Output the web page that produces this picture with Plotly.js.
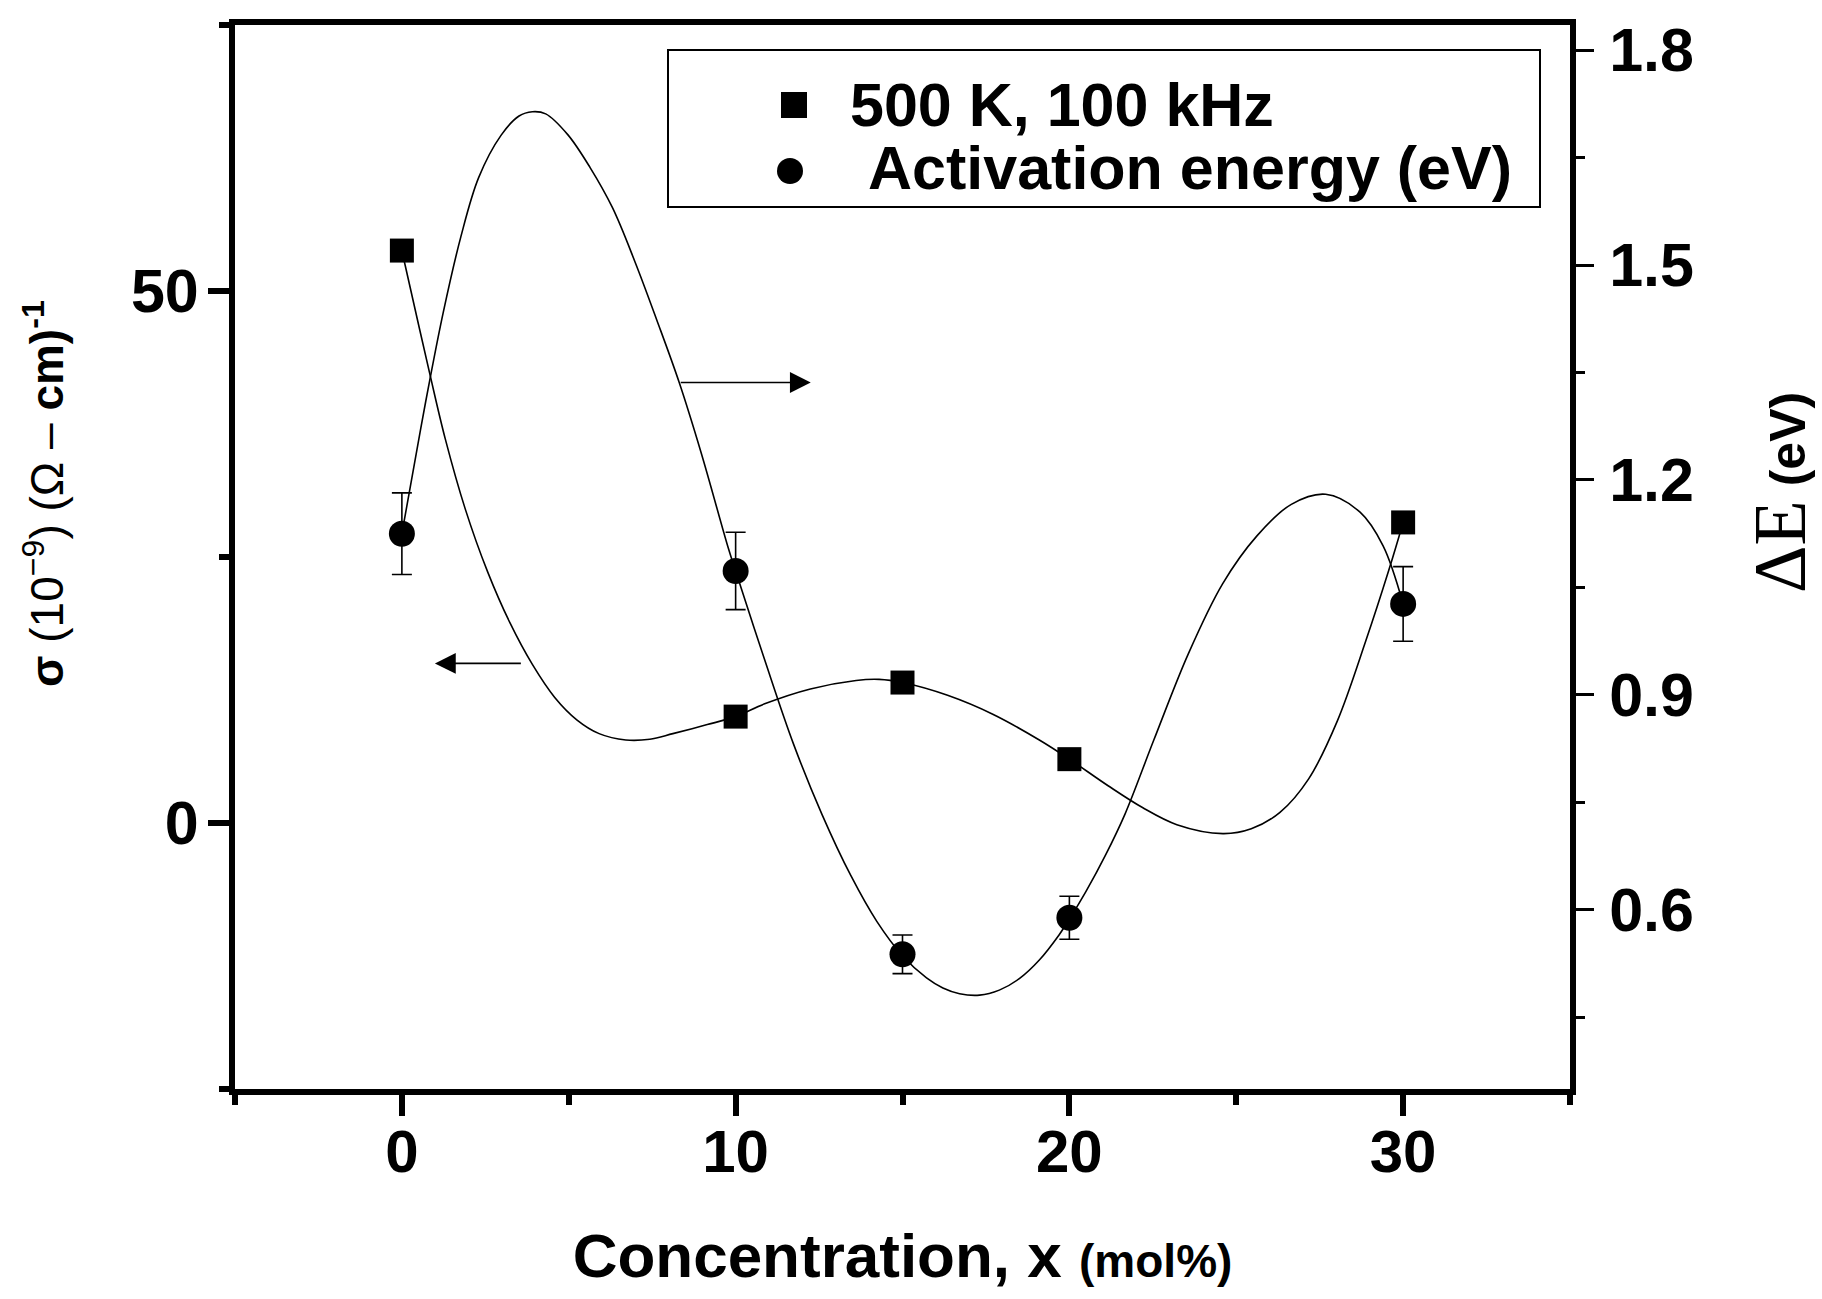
<!DOCTYPE html>
<html>
<head>
<meta charset="utf-8">
<script src="https://cdn.plot.ly/plotly-3.0.1.min.js"></script>
<style>html,body{margin:0;padding:0;background:#fff;}#chart{width:1822px;height:1299px;}</style>
</head>
<body>
<div id="chart"></div>
<script>
// ---- data ----
var conc = [0, 10, 15, 20, 30];
var sigma = [53.8, 10.0, 13.2, 6.0, 28.25];          // 10^-9 (ohm cm)^-1, 500 K, 100 kHz
var actE = [1.125, 1.073, 0.538, 0.589, 1.027];       // eV
var actErr = [0.057, 0.054, 0.027, 0.030, 0.052];

// smooth guide curves
var sigmaCurveX = [0, 0.10, 0.83, 1.30, 1.90, 2.57, 3.24, 3.91, 4.58, 5.24, 5.91, 6.71, 7.43, 8.12, 9.15, 10,
  10.87, 12.24, 13.61, 14.30, 15, 16.35, 17.72, 19.10, 20, 21.16, 22.19, 23.22, 24.60, 25.45, 26.31, 27.17, 28.03, 28.88, 29.57, 30];
var sigmaCurveY = [53.8, 52.4, 42.3, 36.1, 29.5, 23.6, 18.8, 14.9, 11.8, 9.7, 8.4, 7.8, 7.87, 8.4, 9.25, 10.0,
  11.2, 12.6, 13.4, 13.5, 13.2, 12.0, 10.2, 7.8, 6.0, 3.5, 1.45, -0.16, -1.0, -0.55, 1.0, 4.15, 9.6, 17.1, 23.75, 28.25];
var eCurveX = [0, 0.57, 0.83, 1.24, 1.77, 2.30, 2.97, 3.51, 3.91, 4.31, 4.97, 5.64, 6.31, 6.98, 7.64, 8.31, 8.98, 9.78, 10,
  10.87, 11.73, 12.59, 13.45, 14.23, 15, 15.72, 16.21, 16.71, 17.31, 17.90, 18.50, 19.10, 19.69, 20,
  20.49, 21.09, 21.67, 22.53, 23.56, 24.59, 25.62, 26.65, 27.68, 28.71, 29.40, 30];
var eCurveY = [1.125, 1.273, 1.338, 1.434, 1.540, 1.622, 1.681, 1.708, 1.714, 1.711, 1.682, 1.636, 1.580, 1.505, 1.423, 1.336, 1.236, 1.105, 1.073,
  0.949, 0.832, 0.733, 0.648, 0.584, 0.536, 0.505, 0.491, 0.483, 0.481, 0.488, 0.504, 0.530, 0.565, 0.587,
  0.625, 0.677, 0.734, 0.837, 0.957, 1.055, 1.122, 1.166, 1.180, 1.155, 1.108, 1.027];

var xTickVals = [0, 10, 20, 30];
var legendNames = ['500 K, 100 kHz', 'Activation energy (eV)'];

var SANS = 'Liberation Sans, Arial, sans-serif';

var traces = [
  {x: sigmaCurveX, y: sigmaCurveY, mode: 'lines', line: {color: '#000', width: 1.6, shape: 'spline', smoothing: 1}, yaxis: 'y', showlegend: false, hoverinfo: 'skip'},
  {x: eCurveX, y: eCurveY, mode: 'lines', line: {color: '#000', width: 1.6, shape: 'spline', smoothing: 1}, yaxis: 'y2', showlegend: false, hoverinfo: 'skip'},
  {x: conc, y: sigma, name: legendNames[0], mode: 'markers', marker: {symbol: 'square', size: 24, color: '#000'}, yaxis: 'y', showlegend: false},
  {x: conc, y: actE, name: legendNames[1], mode: 'markers', marker: {symbol: 'circle', size: 26, color: '#000'},
   error_y: {type: 'data', array: actErr, visible: true, color: '#000', thickness: 1.6, width: 10}, yaxis: 'y2', showlegend: false}
];

function u(px) { return (px - 235) / 1335; }
function v(py) { return 1 - (py - 25) / 1064; }

var layout = {
  width: 1822, height: 1299,
  margin: {l: 235, r: 252, t: 25, b: 210, pad: 0},
  paper_bgcolor: '#fff', plot_bgcolor: '#fff',
  showlegend: false,
  font: {family: SANS, color: '#000'},
  xaxis: {
    range: [-5, 35], tickvals: xTickVals, ticktext: xTickVals.map(String),
    showgrid: false, zeroline: false,
    showline: true, linewidth: 6, linecolor: '#000', mirror: true,
    ticks: 'outside', ticklen: 21, tickwidth: 6, tickcolor: '#000',
    minor: {dtick: 5, tick0: 0, ticks: 'outside', ticklen: 10, tickwidth: 6, tickcolor: '#000', showgrid: false},
    tickfont: {family: SANS, size: 60, weight: 'bold', color: '#000'},
    ticklabelstandoff: -16,
    title: {text: 'Concentration, x <span style="font-size:46px">(mol%)</span>', font: {family: SANS, size: 62, weight: 'bold', color: '#000'}, standoff: 52}
  },
  yaxis: {
    range: [-25, 75], tick0: 0, dtick: 50,
    showgrid: false, zeroline: false,
    showline: true, linewidth: 6, linecolor: '#000',
    ticks: 'outside', ticklen: 21, tickwidth: 6, tickcolor: '#000',
    minor: {dtick: 25, tick0: 0, ticks: 'outside', ticklen: 10, tickwidth: 6, tickcolor: '#000', showgrid: false},
    tickfont: {family: SANS, size: 61, weight: 'bold', color: '#000'},
    ticklabelstandoff: -3
  },
  yaxis2: {
    overlaying: 'y', side: 'right',
    range: [0.350, 1.835], tick0: 0, dtick: 0.3, tickformat: '.1f',
    showgrid: false, zeroline: false,
    showline: true, linewidth: 6, linecolor: '#000',
    ticks: 'outside', ticklen: 18, tickwidth: 3, tickcolor: '#000',
    minor: {dtick: 0.15, tick0: 0, ticks: 'outside', ticklen: 9, tickwidth: 3, tickcolor: '#000', showgrid: false},
    tickfont: {family: SANS, size: 61, weight: 'bold', color: '#000'},
    ticklabelstandoff: 3
  },
  shapes: [
    {type: 'rect', xref: 'paper', yref: 'paper', x0: u(668), x1: u(1540), y0: v(207), y1: v(50), line: {color: '#000', width: 2}, fillcolor: 'rgba(0,0,0,0)'},
    {type: 'rect', xref: 'paper', yref: 'paper', x0: u(781), x1: u(807), y0: v(118), y1: v(92), line: {width: 0}, fillcolor: '#000'},
    {type: 'circle', xref: 'paper', yref: 'paper', x0: u(777), x1: u(803), y0: v(184), y1: v(158), line: {width: 0}, fillcolor: '#000'}
  ],
  annotations: [
    {xref: 'paper', yref: 'paper', x: u(848), y: v(105), xanchor: 'left', yanchor: 'middle', showarrow: false,
     text: legendNames[0], font: {family: SANS, size: 61, weight: 'bold', color: '#000'}},
    {xref: 'paper', yref: 'paper', x: u(866), y: v(168), xanchor: 'left', yanchor: 'middle', showarrow: false,
     text: legendNames[1], font: {family: SANS, size: 61, weight: 'bold', color: '#000'}},
    // arrows pointing to the respective axes
    {xref: 'x', yref: 'y', axref: 'x', ayref: 'y', x: 12.25, y: 41.4, ax: 8.31, ay: 41.4, text: '', showarrow: true,
     arrowhead: 2, arrowsize: 2.6, arrowwidth: 1.6, arrowcolor: '#000'},
    {xref: 'x', yref: 'y', axref: 'x', ayref: 'y', x: 0.99, y: 15.0, ax: 3.61, ay: 15.0, text: '', showarrow: true,
     arrowhead: 2, arrowsize: 2.6, arrowwidth: 1.6, arrowcolor: '#000'},
    // left axis title
    {xref: 'paper', yref: 'paper', x: u(44), y: v(494), xanchor: 'center', yanchor: 'middle', showarrow: false, textangle: -90,
     font: {family: SANS, size: 46, color: '#000'},
     text: '<b>σ</b> (10<sup>−9</sup>) (Ω – <b>cm)</b><sup><b>-1</b></sup>'},
    // right axis title
    {xref: 'paper', yref: 'paper', x: u(1780), y: v(493), xanchor: 'center', yanchor: 'middle', showarrow: false, textangle: -90,
     font: {family: SANS, size: 50, color: '#000', weight: 'bold'},
     text: '<span style="font-family:Liberation Serif;font-weight:normal;font-size:74px">ΔE</span> (eV)'}
  ]
};

Plotly.newPlot('chart', traces, layout, {staticPlot: true, displayModeBar: false});
</script>
</body>
</html>
